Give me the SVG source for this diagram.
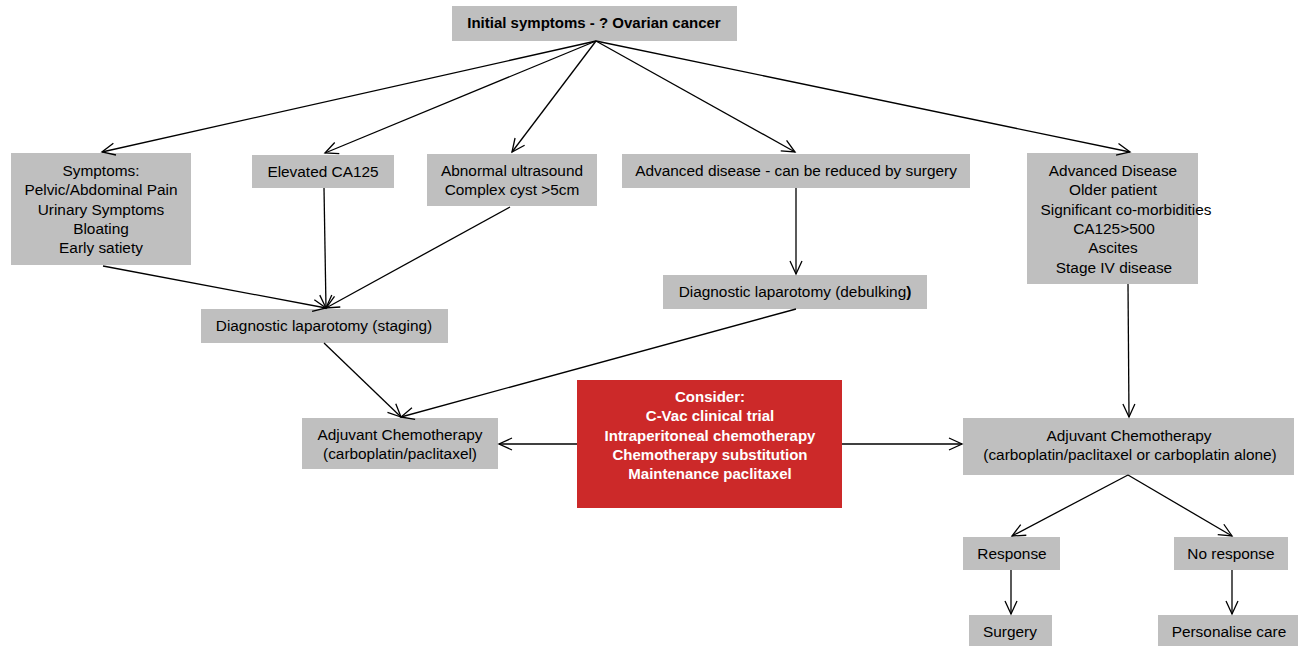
<svg xmlns="http://www.w3.org/2000/svg" width="1298" height="646" viewBox="0 0 1298 646">
  <defs>
    <style>
      .box { fill: #BFBFBF; }
      .red { fill: #CC2929; }
      text { font-family: "Liberation Sans", Arial, sans-serif; font-size: 15.4px; fill: #000; text-anchor: middle; }
      .b { font-weight: bold; font-size: 15px; }
      .w { fill: #FFFFFF; font-weight: bold; font-size: 15px; }
      .conn line { stroke: #000; stroke-width: 1.3; fill: none; marker-end: url(#arr); }
    </style>
    <marker id="arr" markerUnits="userSpaceOnUse" markerWidth="16" markerHeight="16" viewBox="-14 -8 16 16" refX="0" refY="0" orient="auto">
      <path d="M-13,-6 L0,0 L-13,6" fill="none" stroke="#000" stroke-width="1.3"/>
    </marker>
  </defs>
  <rect width="1298" height="646" fill="#FFFFFF"/>

  <g id="n-initial">
    <rect class="box" x="452" y="6" width="285" height="35"/>
    <text class="b" x="594" y="28">Initial symptoms - ? Ovarian cancer</text>
  </g>
  <g id="n-symptoms">
    <rect class="box" x="11" y="153" width="180" height="112"/>
    <text x="101" y="176">Symptoms:</text>
    <text x="101" y="195">Pelvic/Abdominal Pain</text>
    <text x="101" y="214.5">Urinary Symptoms</text>
    <text x="101" y="234">Bloating</text>
    <text x="101" y="253">Early satiety</text>
  </g>
  <g id="n-ca125">
    <rect class="box" x="252" y="155" width="142" height="33"/>
    <text x="323" y="177">Elevated CA125</text>
  </g>
  <g id="n-ultrasound">
    <rect class="box" x="427" y="154" width="170" height="52"/>
    <text x="512" y="176">Abnormal ultrasound</text>
    <text x="512" y="195">Complex cyst &gt;5cm</text>
  </g>
  <g id="n-adv-surgery">
    <rect class="box" x="622" y="154" width="348" height="34"/>
    <text x="796" y="176">Advanced disease - can be reduced by surgery</text>
  </g>
  <g id="n-adv-disease">
    <rect class="box" x="1027" y="153" width="171" height="131"/>
    <text x="1113" y="176">Advanced Disease</text>
    <text x="1113" y="195">Older patient</text>
    <text x="1126" y="215">Significant co-morbidities</text>
    <text x="1114" y="234">CA125&gt;500</text>
    <text x="1113" y="253">Ascites</text>
    <text x="1114" y="273">Stage IV disease</text>
  </g>
  <g id="n-debulking">
    <rect class="box" x="663" y="275" width="264" height="34"/>
    <text x="795" y="297">Diagnostic laparotomy (debulking<tspan style="font-weight:bold">)</tspan></text>
  </g>
  <g id="n-staging">
    <rect class="box" x="201" y="309" width="247" height="34"/>
    <text x="324" y="331">Diagnostic laparotomy (staging)</text>
  </g>
  <g id="n-adj-left">
    <rect class="box" x="302" y="418" width="196" height="51"/>
    <text x="400" y="440">Adjuvant Chemotherapy</text>
    <text x="400" y="459">(carboplatin/paclitaxel)</text>
  </g>
  <g id="n-consider">
    <rect class="red" x="577" y="380" width="265" height="128"/>
    <text class="w" x="710" y="402">Consider:</text>
    <text class="w" x="710" y="421">C-Vac clinical trial</text>
    <text class="w" x="710" y="441">Intraperitoneal chemotherapy</text>
    <text class="w" x="710" y="460">Chemotherapy substitution</text>
    <text class="w" x="710" y="479">Maintenance paclitaxel</text>
  </g>
  <g id="n-adj-right">
    <rect class="box" x="963" y="418" width="331" height="57"/>
    <text x="1129" y="441">Adjuvant Chemotherapy</text>
    <text x="1130" y="460">(carboplatin/paclitaxel or carboplatin alone)</text>
  </g>
  <g id="n-response">
    <rect class="box" x="963" y="537" width="97" height="33"/>
    <text x="1012" y="559">Response</text>
  </g>
  <g id="n-noresponse">
    <rect class="box" x="1174" y="537" width="114" height="33"/>
    <text x="1231" y="559">No response</text>
  </g>
  <g id="n-surgery">
    <rect class="box" x="969" y="615" width="83" height="31"/>
    <text x="1010" y="637">Surgery</text>
  </g>
  <g id="n-personalise">
    <rect class="box" x="1158" y="615" width="140" height="31"/>
    <text x="1229" y="637">Personalise care</text>
  </g>

  <g id="connectors" class="conn">
    <line x1="596" y1="41" x2="102" y2="152"/>
    <line x1="596" y1="41" x2="325" y2="153"/>
    <line x1="596" y1="41" x2="512" y2="152"/>
    <line x1="596" y1="41" x2="795" y2="152"/>
    <line x1="596" y1="41" x2="1130" y2="152"/>
    <line x1="103" y1="266" x2="326" y2="308"/>
    <line x1="324" y1="188" x2="326" y2="308"/>
    <line x1="510" y1="207" x2="326" y2="308"/>
    <line x1="796" y1="188" x2="796" y2="274"/>
    <line x1="324" y1="343" x2="401" y2="417"/>
    <line x1="796" y1="309" x2="401" y2="417"/>
    <line x1="577" y1="444" x2="499" y2="444"/>
    <line x1="842" y1="444" x2="962" y2="444"/>
    <line x1="1128" y1="284" x2="1129" y2="417"/>
    <line x1="1128" y1="475" x2="1012" y2="536"/>
    <line x1="1128" y1="475" x2="1232" y2="536"/>
    <line x1="1011" y1="570" x2="1011" y2="614"/>
    <line x1="1232" y1="570" x2="1232" y2="614"/>
  </g>
</svg>
